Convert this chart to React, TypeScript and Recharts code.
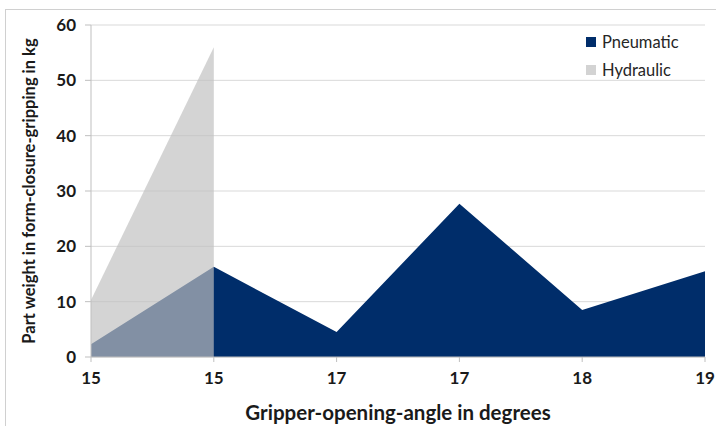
import { AreaChart, Area, XAxis, YAxis, CartesianGrid } from 'recharts'

const angles = ['15', '15', '17', '17', '18', '19']
const pneumatic = [2.3, 16.3, 4.5, 27.7, 8.5, 15.5]
const hydraulic: (number | null)[] = [10.3, 56, null, null, null, null]
const yTicks = [0, 10, 20, 30, 40, 50, 60]

const data = angles.map((angle, i) => ({
  angle,
  pneumatic: pneumatic[i],
  hydraulic: hydraulic[i],
}))

const font = 'Lato, "Open Sans", sans-serif'

const legendItems = [
  { name: 'Pneumatic', color: '#002d6a' },
  { name: 'Hydraulic', color: '#d3d3d3' },
]

function ChartLegend() {
  return (
    <div style={{ position: 'absolute', left: 586, top: 28, fontFamily: font, fontSize: 16.5, color: '#262626' }}>
      {legendItems.map((item) => (
        <div key={item.name} style={{ display: 'flex', alignItems: 'center', height: 28 }}>
          <span style={{ width: 10, height: 10, background: item.color, marginRight: 6 }} />
          {item.name}
        </div>
      ))}
    </div>
  )
}

export default function App() {
  return (
    <div style={{ position: 'fixed', left: 0, top: 0, width: 716, height: 426, background: '#fff', overflow: 'hidden' }}>
      <div
        style={{
          position: 'absolute',
          left: 5,
          top: 9,
          width: 720,
          height: 430,
          borderLeft: '1px solid #d0d0d0',
          borderTop: '1px solid #d0d0d0',
        }}
      />
      <AreaChart
        width={716}
        height={426}
        data={data}
        margin={{ top: 25, right: 11, left: 0, bottom: 0 }}
        style={{ position: 'absolute', left: 0, top: 0 }}
      >
        <CartesianGrid vertical={false} stroke="#d9d9d9" />
        <XAxis
          dataKey="angle"
          height={69}
          stroke="#bfbfbf"
          tickSize={5}
          tickMargin={10}
          tick={{ fill: '#1a1a1a', fontFamily: font, fontSize: 17, fontWeight: 700 }}
          interval={0}
          label={{
            value: 'Gripper-opening-angle in degrees',
            position: 'insideBottom',
            offset: 6,
            fill: '#1a1a1a',
            fontFamily: font,
            fontSize: 20.5,
            fontWeight: 700,
          }}
        />
        <YAxis
          width={91}
          domain={[0, 60]}
          ticks={yTicks}
          stroke="#bfbfbf"
          tickSize={6}
          tickMargin={9}
          tick={{ fill: '#1a1a1a', fontFamily: font, fontSize: 17, fontWeight: 700 }}
          label={{
            value: 'Part weight in form-closure-gripping in kg',
            angle: -90,
            position: 'insideLeft',
            offset: 29,
            style: { textAnchor: 'middle' },
            fill: '#1a1a1a',
            fontFamily: font,
            fontSize: 16.5,
            fontWeight: 700,
          }}
        />
        <Area
          type="linear"
          dataKey="pneumatic"
          name="Pneumatic"
          stroke="none"
          fill="#002d6a"
          fillOpacity={1}
          isAnimationActive={false}
        />
        <Area
          type="linear"
          dataKey="hydraulic"
          name="Hydraulic"
          stroke="none"
          fill="#bfbfbf"
          fillOpacity={0.68}
          isAnimationActive={false}
        />
      </AreaChart>
      <ChartLegend />
    </div>
  )
}
